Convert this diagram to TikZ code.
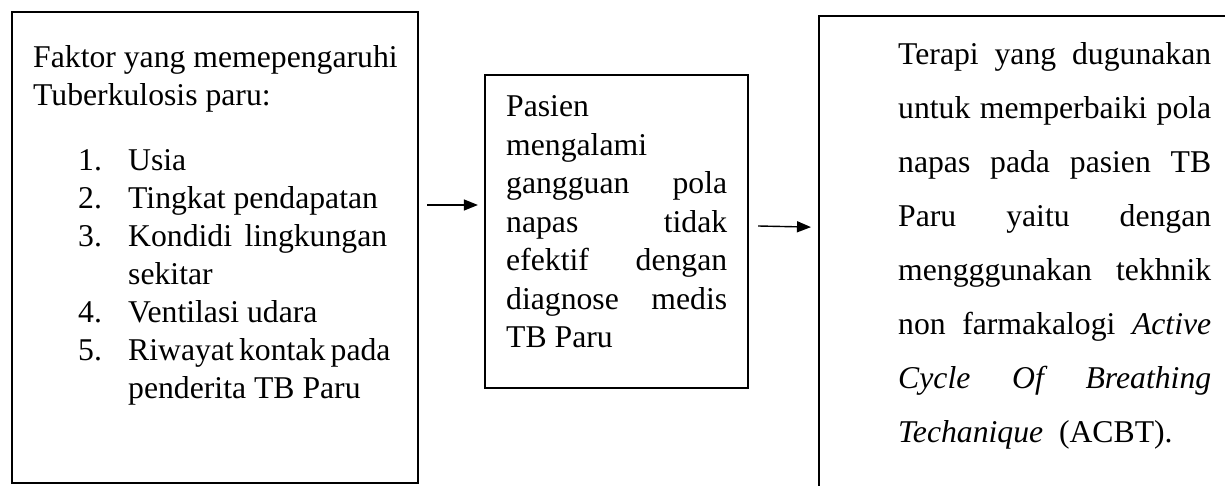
\documentclass[tikz,border=0pt]{standalone}
\usepackage{fontspec}
\setmainfont{Liberation Serif}
\usetikzlibrary{arrows.meta}
\newcommand\jline[2]{\makebox[#1][s]{#2}}
\begin{document}
\begin{tikzpicture}[x=1pt,y=1pt,
  box/.style={draw, line width=2.2pt, inner sep=0pt},
  txt/.style={inner sep=0pt, font=\fontsize{31.7}{38}\selectfont},
  arr/.style={line width=1.4pt, -{Triangle[length=14pt,width=11pt]}}]
\useasboundingbox (0,0) rectangle (1225,485);
\clip (0,0) rectangle (1225,485);
% boxes
\node[box, minimum width=406pt, minimum height=471pt] (L) at (215,237.5) {};
\node[box, minimum width=263pt, minimum height=313pt] (M) at (616.5,253.5) {};
\node[box, minimum width=430pt, minimum height=500pt, anchor=north west] (R) at (818,470) {};
% texts
\node[txt, anchor=base west] (Lt) at (33,417) {\parbox[t]{380pt}{\baselineskip=38pt
Faktor yang memepengaruhi\\
Tuberkulosis paru:\\[27pt]
\hspace*{45pt}\makebox[50pt][l]{1.}Usia\\
\hspace*{45pt}\makebox[50pt][l]{2.}Tingkat pendapatan\\
\hspace*{45pt}\makebox[50pt][l]{3.}\jline{259pt}{Kondidi lingkungan}\\
\hspace*{95pt}sekitar\\
\hspace*{45pt}\makebox[50pt][l]{4.}Ventilasi udara\\
\hspace*{45pt}\makebox[50pt][l]{5.}\jline{259pt}{Riwayat kontak pada}\\
\hspace*{95pt}penderita TB Paru}};
\node[txt, anchor=base west] (Mt) at (506,368) {\parbox[t]{221pt}{\baselineskip=38.5pt
Pasien\\
mengalami\\
\jline{221pt}{gangguan pola}\\
\jline{221pt}{napas tidak}\\
\jline{221pt}{efektif dengan}\\
\jline{221pt}{diagnose medis}\\
TB Paru}};
\node[txt, anchor=base west] (Rt) at (898,420) {\parbox[t]{313pt}{\baselineskip=54pt
\jline{313pt}{Terapi yang dugunakan}\\
\jline{313pt}{untuk memperbaiki pola}\\
\jline{313pt}{napas pada pasien TB}\\
\jline{313pt}{Paru yaitu dengan}\\
\jline{313pt}{mengggunakan tekhnik}\\
\jline{313pt}{non farmakalogi \textit{Active}}\\
\jline{313pt}{\textit{Cycle Of Breathing}}\\
\textit{Techanique}\ \ (ACBT).}};
% arrows
\draw[arr] ([xshift=8pt,yshift=42.5pt]L.east) -- ([xshift=-6pt,yshift=26.5pt]M.west);
\draw[arr] ([xshift=9pt,yshift=5.5pt]M.east) -- ([xshift=-7pt,yshift=39pt]R.west);
\end{tikzpicture}
\end{document}
